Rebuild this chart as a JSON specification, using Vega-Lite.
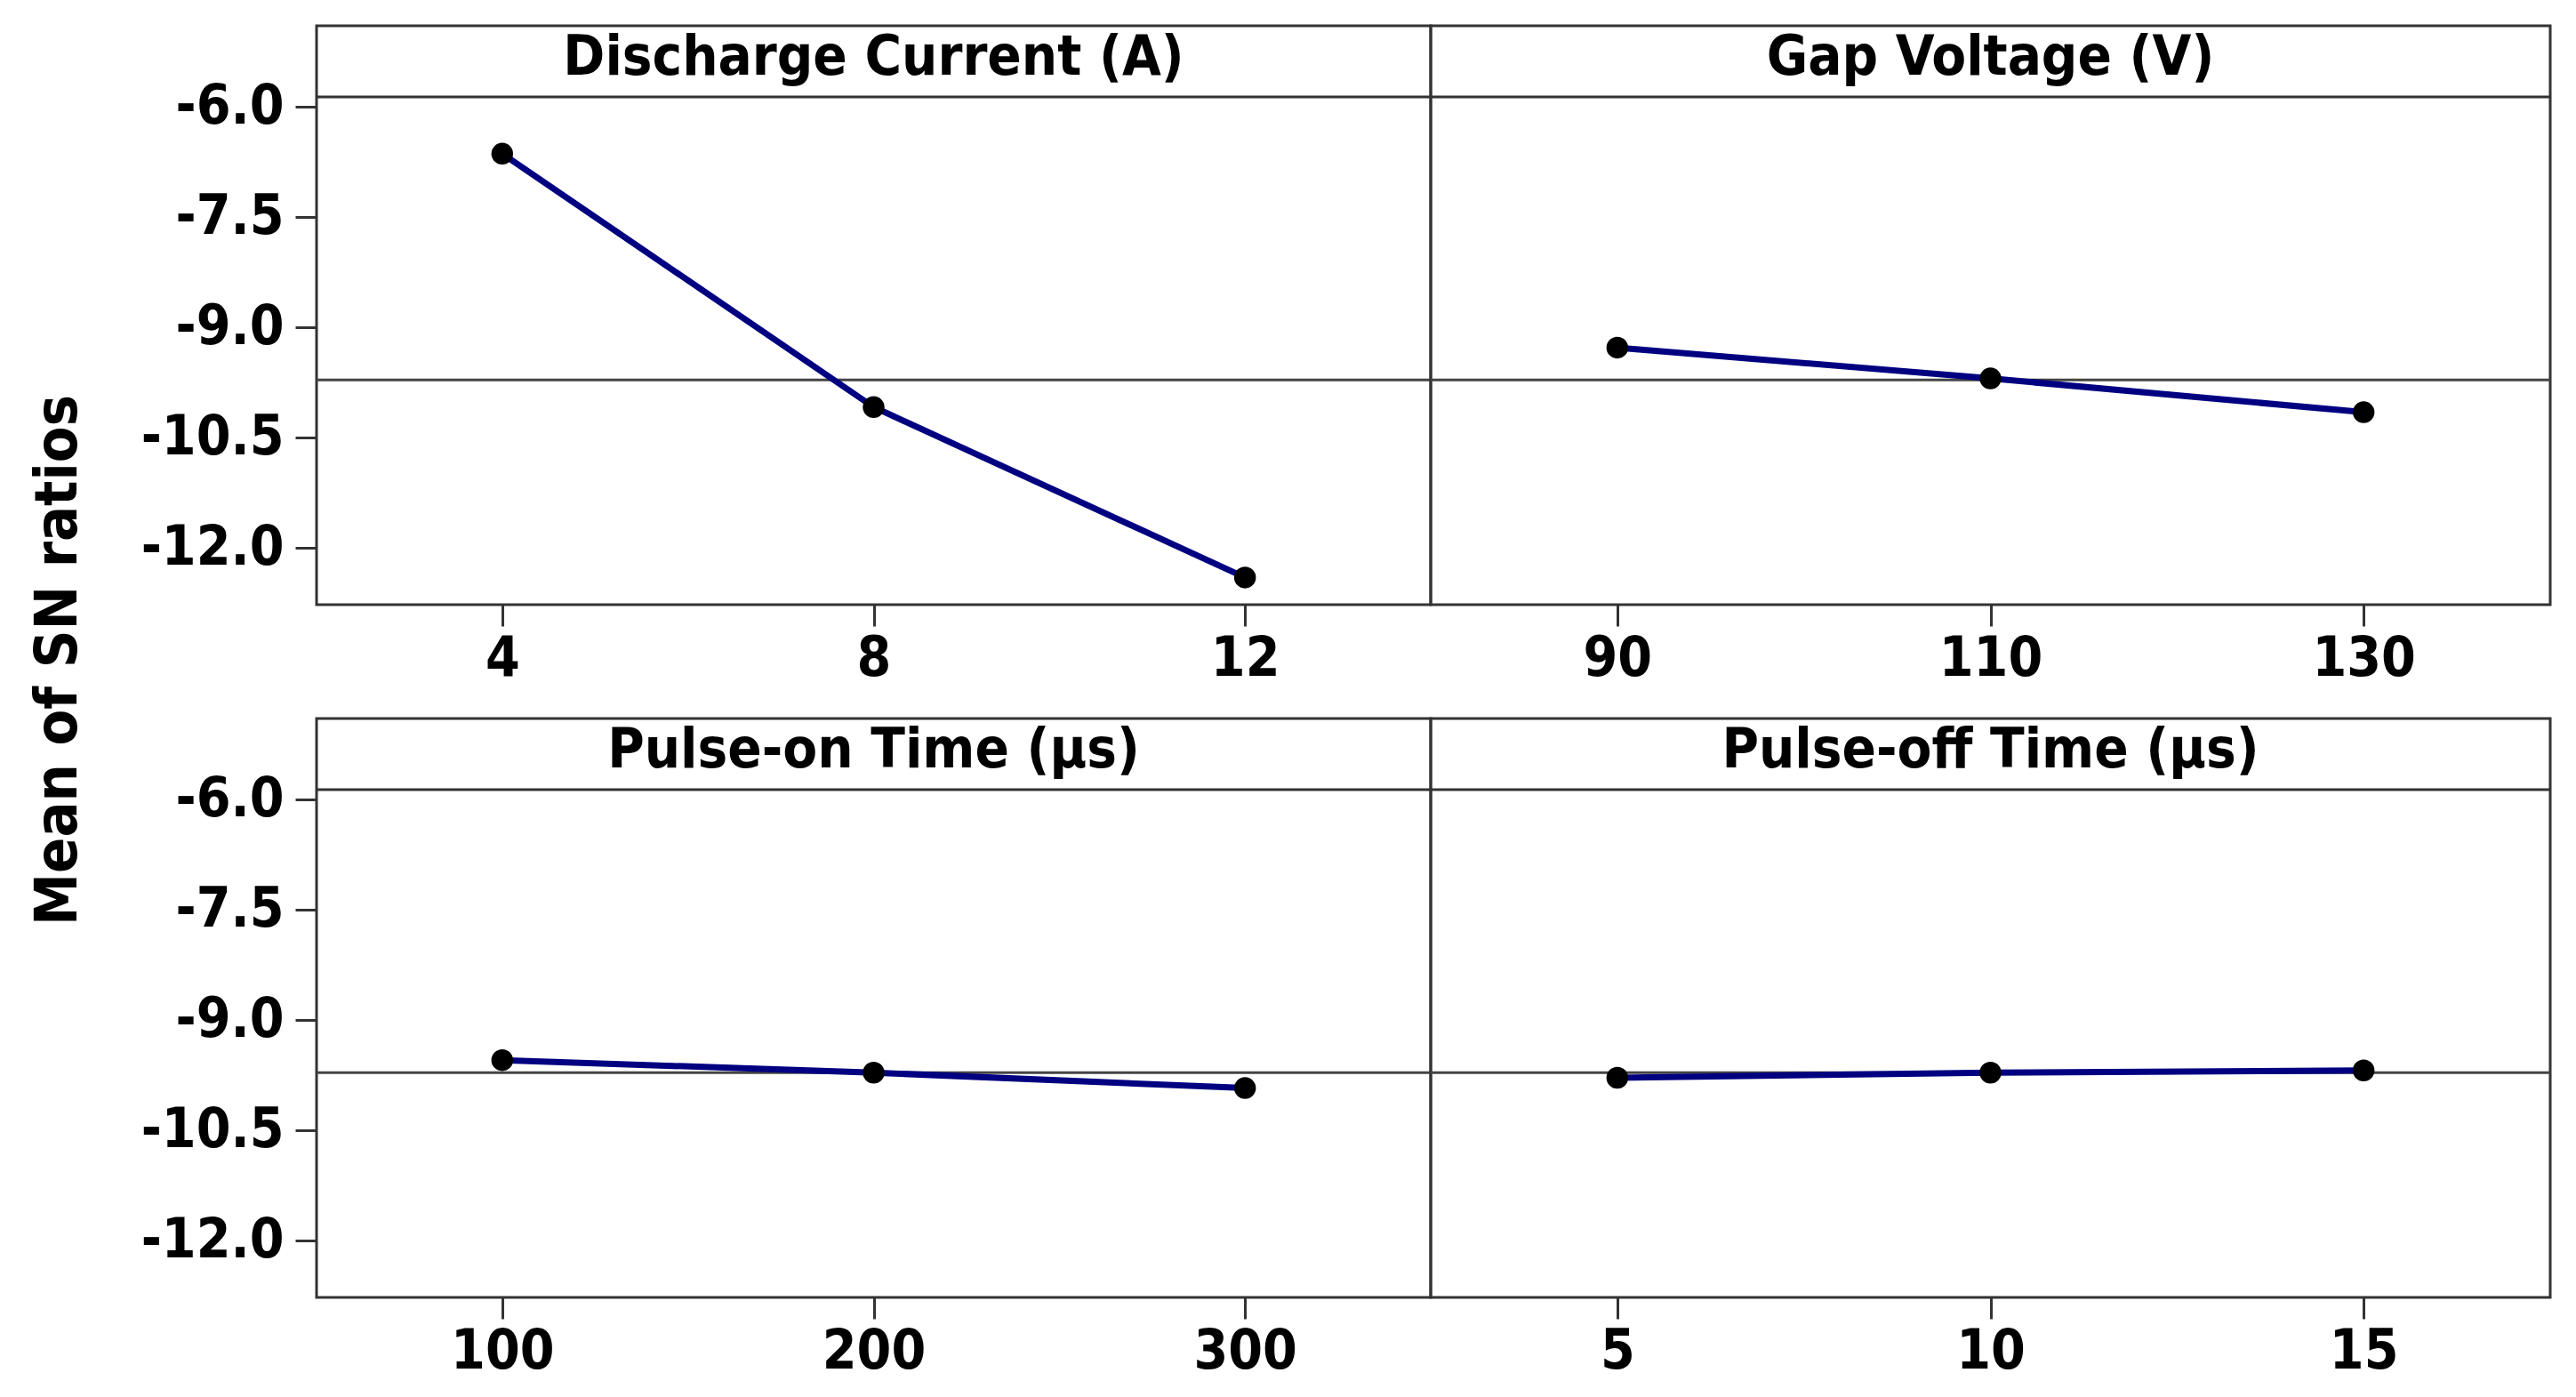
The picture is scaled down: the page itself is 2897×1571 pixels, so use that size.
{
  "$schema": "https://vega.github.io/schema/vega-lite/v6.json",
  "background": "white",
  "padding": {"left": 30, "top": 27, "right": 10, "bottom": 5},
  "datasets": {
    "sn": [
      {"factor": "Discharge Current (A)", "level": 4, "sn": -6.64},
      {"factor": "Discharge Current (A)", "level": 8, "sn": -10.09},
      {"factor": "Discharge Current (A)", "level": 12, "sn": -12.41},
      {"factor": "Gap Voltage (V)", "level": 90, "sn": -9.28},
      {"factor": "Gap Voltage (V)", "level": 110, "sn": -9.70},
      {"factor": "Gap Voltage (V)", "level": 130, "sn": -10.16},
      {"factor": "Pulse-on Time (μs)", "level": 100, "sn": -9.55},
      {"factor": "Pulse-on Time (μs)", "level": 200, "sn": -9.72},
      {"factor": "Pulse-on Time (μs)", "level": 300, "sn": -9.93},
      {"factor": "Pulse-off Time (μs)", "level": 5, "sn": -9.79},
      {"factor": "Pulse-off Time (μs)", "level": 10, "sn": -9.72},
      {"factor": "Pulse-off Time (μs)", "level": 15, "sn": -9.69}
    ],
    "panels": [
      {"factor": "Discharge Current (A)", "grand_mean": -9.72},
      {"factor": "Gap Voltage (V)", "grand_mean": -9.72},
      {"factor": "Pulse-on Time (μs)", "grand_mean": -9.72},
      {"factor": "Pulse-off Time (μs)", "grand_mean": -9.72}
    ]
  },
  "config": {
    "view": {"stroke": "#333333", "strokeWidth": 3},
    "font": "DejaVu Sans Condensed, DejaVu Sans",
    "axis": {
      "labelFont": "DejaVu Sans Condensed, DejaVu Sans",
      "labelFontSize": 62,
      "labelFontWeight": "bold",
      "labelColor": "black",
      "labelLimit": 500,
      "tickSize": 24,
      "tickWidth": 3,
      "tickColor": "#333333",
      "domain": false,
      "grid": false,
      "titleFont": "DejaVu Sans Condensed, DejaVu Sans",
      "titleFontSize": 66,
      "titleFontWeight": "bold",
      "titleColor": "black"
    }
  },
  "columns": 2,
  "spacing": {"row": 128, "column": 0},
  "bounds": "flush",
  "concat": [
    {
      "width": 1253, "height": 651,
      "layer": [
        {"data": {"name": "panels"}, "transform": [{"filter": {"field": "factor", "equal": "Discharge Current (A)"}}],
         "mark": {"type": "rule", "color": "#444444", "strokeWidth": 3},
         "encoding": {"y": {"field": "grand_mean", "type": "quantitative", "scale": {"domain": [-12.78, -4.899], "nice": false, "zero": false},
           "axis": {"values": [-6, -7.5, -9, -10.5, -12], "labelExpr": "replace(format(datum.value, '.1f'), '−', '-')", "labelPadding": 13, "title": "Mean of SN ratios", "titleY": 713, "titlePadding": 59}}}},
        {"data": {"name": "panels"}, "transform": [{"filter": {"field": "factor", "equal": "Discharge Current (A)"}}],
         "mark": {"type": "rule", "color": "#333333", "strokeWidth": 3},
         "encoding": {"y": {"datum": -5.867, "type": "quantitative",
           "axis": {"values": [-6, -7.5, -9, -10.5, -12], "labelExpr": "replace(format(datum.value, '.1f'), '−', '-')", "labelPadding": 13, "title": "Mean of SN ratios", "titleY": 713, "titlePadding": 59}}}},
        {"data": {"name": "sn"}, "transform": [{"filter": {"field": "factor", "equal": "Discharge Current (A)"}}],
         "mark": {"type": "line", "color": "#000080", "strokeWidth": 7},
         "encoding": {"x": {"field": "level", "type": "quantitative", "scale": {"domain": [2, 14], "nice": false, "zero": false},
           "axis": {"values": [4, 8, 12], "title": null, "labelPadding": 6}},
           "y": {"field": "sn", "type": "quantitative",
           "axis": {"values": [-6, -7.5, -9, -10.5, -12], "labelExpr": "replace(format(datum.value, '.1f'), '−', '-')", "labelPadding": 13, "title": "Mean of SN ratios", "titleY": 713, "titlePadding": 59}}}},
        {"data": {"name": "sn"}, "transform": [{"filter": {"field": "factor", "equal": "Discharge Current (A)"}}],
         "mark": {"type": "point", "filled": true, "color": "black", "opacity": 1, "size": 600},
         "encoding": {"x": {"field": "level", "type": "quantitative", "axis": {"values": [4, 8, 12], "title": null, "labelPadding": 6}},
           "y": {"field": "sn", "type": "quantitative",
           "axis": {"values": [-6, -7.5, -9, -10.5, -12], "labelExpr": "replace(format(datum.value, '.1f'), '−', '-')", "labelPadding": 13, "title": "Mean of SN ratios", "titleY": 713, "titlePadding": 59}}}},
        {"data": {"name": "panels"}, "transform": [{"filter": {"field": "factor", "equal": "Discharge Current (A)"}}],
         "mark": {"type": "text", "fontSize": 63, "fontWeight": "bold", "baseline": "alphabetic", "align": "center", "color": "black", "font": "DejaVu Sans Condensed, DejaVu Sans"},
         "encoding": {"y": {"datum": -5.57, "type": "quantitative",
           "axis": {"values": [-6, -7.5, -9, -10.5, -12], "labelExpr": "replace(format(datum.value, '.1f'), '−', '-')", "labelPadding": 13, "title": "Mean of SN ratios", "titleY": 713, "titlePadding": 59}}, "text": {"field": "factor"}}}
      ]
    },
    {
      "width": 1259, "height": 651,
      "layer": [
        {"data": {"name": "panels"}, "transform": [{"filter": {"field": "factor", "equal": "Gap Voltage (V)"}}],
         "mark": {"type": "rule", "color": "#444444", "strokeWidth": 3},
         "encoding": {"y": {"field": "grand_mean", "type": "quantitative", "scale": {"domain": [-12.78, -4.899], "nice": false, "zero": false}, "axis": null}}},
        {"data": {"name": "panels"}, "transform": [{"filter": {"field": "factor", "equal": "Gap Voltage (V)"}}],
         "mark": {"type": "rule", "color": "#333333", "strokeWidth": 3},
         "encoding": {"y": {"datum": -5.867, "type": "quantitative", "axis": null}}},
        {"data": {"name": "sn"}, "transform": [{"filter": {"field": "factor", "equal": "Gap Voltage (V)"}}],
         "mark": {"type": "line", "color": "#000080", "strokeWidth": 7},
         "encoding": {"x": {"field": "level", "type": "quantitative", "scale": {"domain": [80, 140], "nice": false, "zero": false},
           "axis": {"values": [90, 110, 130], "title": null, "labelPadding": 6}},
           "y": {"field": "sn", "type": "quantitative", "axis": null}}},
        {"data": {"name": "sn"}, "transform": [{"filter": {"field": "factor", "equal": "Gap Voltage (V)"}}],
         "mark": {"type": "point", "filled": true, "color": "black", "opacity": 1, "size": 600},
         "encoding": {"x": {"field": "level", "type": "quantitative", "axis": {"values": [90, 110, 130], "title": null, "labelPadding": 6}},
           "y": {"field": "sn", "type": "quantitative", "axis": null}}},
        {"data": {"name": "panels"}, "transform": [{"filter": {"field": "factor", "equal": "Gap Voltage (V)"}}],
         "mark": {"type": "text", "fontSize": 63, "fontWeight": "bold", "baseline": "alphabetic", "align": "center", "color": "black", "font": "DejaVu Sans Condensed, DejaVu Sans"},
         "encoding": {"y": {"datum": -5.57, "type": "quantitative", "axis": null}, "text": {"field": "factor"}}}
      ]
    },
    {
      "width": 1253, "height": 651,
      "layer": [
        {"data": {"name": "panels"}, "transform": [{"filter": {"field": "factor", "equal": "Pulse-on Time (μs)"}}],
         "mark": {"type": "rule", "color": "#444444", "strokeWidth": 3},
         "encoding": {"y": {"field": "grand_mean", "type": "quantitative", "scale": {"domain": [-12.78, -4.899], "nice": false, "zero": false},
           "axis": {"values": [-6, -7.5, -9, -10.5, -12], "labelExpr": "replace(format(datum.value, '.1f'), '−', '-')", "labelPadding": 13, "title": null}}}},
        {"data": {"name": "panels"}, "transform": [{"filter": {"field": "factor", "equal": "Pulse-on Time (μs)"}}],
         "mark": {"type": "rule", "color": "#333333", "strokeWidth": 3},
         "encoding": {"y": {"datum": -5.867, "type": "quantitative",
           "axis": {"values": [-6, -7.5, -9, -10.5, -12], "labelExpr": "replace(format(datum.value, '.1f'), '−', '-')", "labelPadding": 13, "title": null}}}},
        {"data": {"name": "sn"}, "transform": [{"filter": {"field": "factor", "equal": "Pulse-on Time (μs)"}}],
         "mark": {"type": "line", "color": "#000080", "strokeWidth": 7},
         "encoding": {"x": {"field": "level", "type": "quantitative", "scale": {"domain": [50, 350], "nice": false, "zero": false},
           "axis": {"values": [100, 200, 300], "title": null, "labelPadding": 6}},
           "y": {"field": "sn", "type": "quantitative",
           "axis": {"values": [-6, -7.5, -9, -10.5, -12], "labelExpr": "replace(format(datum.value, '.1f'), '−', '-')", "labelPadding": 13, "title": null}}}},
        {"data": {"name": "sn"}, "transform": [{"filter": {"field": "factor", "equal": "Pulse-on Time (μs)"}}],
         "mark": {"type": "point", "filled": true, "color": "black", "opacity": 1, "size": 600},
         "encoding": {"x": {"field": "level", "type": "quantitative", "axis": {"values": [100, 200, 300], "title": null, "labelPadding": 6}},
           "y": {"field": "sn", "type": "quantitative",
           "axis": {"values": [-6, -7.5, -9, -10.5, -12], "labelExpr": "replace(format(datum.value, '.1f'), '−', '-')", "labelPadding": 13, "title": null}}}},
        {"data": {"name": "panels"}, "transform": [{"filter": {"field": "factor", "equal": "Pulse-on Time (μs)"}}],
         "mark": {"type": "text", "fontSize": 63, "fontWeight": "bold", "baseline": "alphabetic", "align": "center", "color": "black", "font": "DejaVu Sans Condensed, DejaVu Sans"},
         "encoding": {"y": {"datum": -5.57, "type": "quantitative",
           "axis": {"values": [-6, -7.5, -9, -10.5, -12], "labelExpr": "replace(format(datum.value, '.1f'), '−', '-')", "labelPadding": 13, "title": null}}, "text": {"field": "factor"}}}
      ]
    },
    {
      "width": 1259, "height": 651,
      "layer": [
        {"data": {"name": "panels"}, "transform": [{"filter": {"field": "factor", "equal": "Pulse-off Time (μs)"}}],
         "mark": {"type": "rule", "color": "#444444", "strokeWidth": 3},
         "encoding": {"y": {"field": "grand_mean", "type": "quantitative", "scale": {"domain": [-12.78, -4.899], "nice": false, "zero": false}, "axis": null}}},
        {"data": {"name": "panels"}, "transform": [{"filter": {"field": "factor", "equal": "Pulse-off Time (μs)"}}],
         "mark": {"type": "rule", "color": "#333333", "strokeWidth": 3},
         "encoding": {"y": {"datum": -5.867, "type": "quantitative", "axis": null}}},
        {"data": {"name": "sn"}, "transform": [{"filter": {"field": "factor", "equal": "Pulse-off Time (μs)"}}],
         "mark": {"type": "line", "color": "#000080", "strokeWidth": 7},
         "encoding": {"x": {"field": "level", "type": "quantitative", "scale": {"domain": [2.5, 17.5], "nice": false, "zero": false},
           "axis": {"values": [5, 10, 15], "title": null, "labelPadding": 6}},
           "y": {"field": "sn", "type": "quantitative", "axis": null}}},
        {"data": {"name": "sn"}, "transform": [{"filter": {"field": "factor", "equal": "Pulse-off Time (μs)"}}],
         "mark": {"type": "point", "filled": true, "color": "black", "opacity": 1, "size": 600},
         "encoding": {"x": {"field": "level", "type": "quantitative", "axis": {"values": [5, 10, 15], "title": null, "labelPadding": 6}},
           "y": {"field": "sn", "type": "quantitative", "axis": null}}},
        {"data": {"name": "panels"}, "transform": [{"filter": {"field": "factor", "equal": "Pulse-off Time (μs)"}}],
         "mark": {"type": "text", "fontSize": 63, "fontWeight": "bold", "baseline": "alphabetic", "align": "center", "color": "black", "font": "DejaVu Sans Condensed, DejaVu Sans"},
         "encoding": {"y": {"datum": -5.57, "type": "quantitative", "axis": null}, "text": {"field": "factor"}}}
      ]
    }
  ]
}
